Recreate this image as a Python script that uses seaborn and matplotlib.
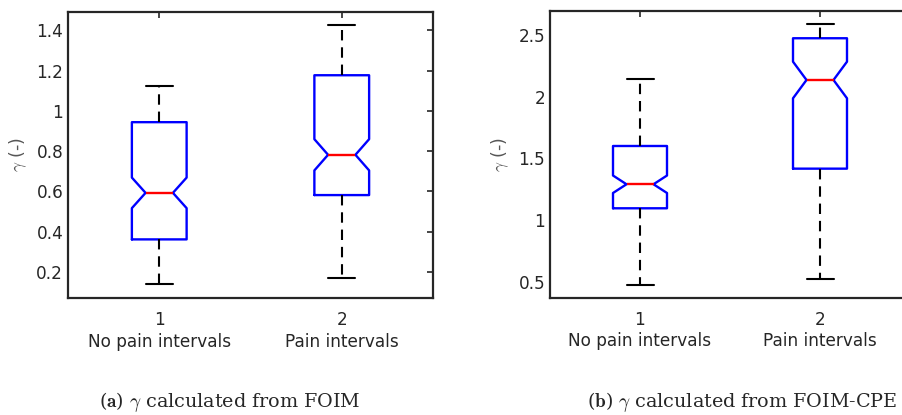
"""Notched boxplots of gamma for no-pain vs pain intervals (FOIM and FOIM-CPE),
drawn in a MATLAB-like style with seaborn.

Save: out.png
"""
import numpy as np
import pandas as pd

import matplotlib
matplotlib.use('Agg')
import matplotlib.pyplot as plt
import matplotlib.ticker as mticker
import seaborn as sns

sns.set_style('white')
plt.rcParams['font.family'] = ['DejaVu Sans']
plt.rcParams['mathtext.fontset'] = 'cm'

GROUPS = ['No pain intervals', 'Pain intervals']

# five-number summaries: [whisker low, Q1, median, Q3, whisker high]
FOIM_NOPAIN = [0.139, 0.362, 0.593, 0.944, 1.124]
FOIM_PAIN = [0.172, 0.582, 0.782, 1.177, 1.428]
CPE_NOPAIN = [0.478, 1.098, 1.292, 1.601, 2.142]
CPE_PAIN = [0.524, 1.418, 2.134, 2.471, 2.584]

# approximate sample counts (inferred from the notch widths)
N_FOIM = 145
N_CPE = 125

FOIM_TICKS = [0.2, 0.4, 0.6, 0.8, 1.0, 1.2, 1.4]
CPE_TICKS = [0.5, 1.0, 1.5, 2.0, 2.5]


def _frame(summaries, n):
    # each summary value repeated n/5 times keeps the quartiles exact and
    # gives the same notch size as the original sample
    rows = []
    for g, s in zip(GROUPS, summaries):
        for v in np.repeat(s, n // 5):
            rows.append((g, v))
    return pd.DataFrame(rows, columns=['group', 'gamma'])


panels = [
    dict(df=_frame([FOIM_NOPAIN, FOIM_PAIN], N_FOIM), ylim=(0.071, 1.491), ticks=FOIM_TICKS,
         pos=[68 / 902, 1 - 298 / 415, 365 / 902, 286 / 415],
         cap=r'($\mathbf{a}$) $\gamma$ calculated from FOIM', capx=230 / 902),
    dict(df=_frame([CPE_NOPAIN, CPE_PAIN], N_CPE), ylim=(0.376, 2.691), ticks=CPE_TICKS,
         pos=[550 / 902, 1 - 297.7 / 415, 360 / 902, 286.7 / 415],
         cap=r'($\mathbf{b}$) $\gamma$ calculated from FOIM-CPE', capx=742 / 902),
]

fig = plt.figure(figsize=(9.02, 4.15), dpi=100)
SPINE = '#262626'

for p in panels:
    ax = fig.add_axes(p['pos'])
    sns.boxplot(data=p['df'], x='group', y='gamma', order=GROUPS, ax=ax,
                width=0.3, whis=(0, 100), fill=False, shownotches=True,
                boxprops={'color': '#0000ff', 'linewidth': 1.7},
                medianprops={'color': '#ff0000', 'linewidth': 1.7},
                whiskerprops={'color': 'black', 'linewidth': 1.5,
                              'linestyle': (0, (5, 3.3))},
                capprops={'color': 'black', 'linewidth': 1.5},
                showfliers=False)
    ax.set_xlim(-0.5, 1.5)
    ax.set_ylim(*p['ylim'])
    ax.set_yticks(p['ticks'])
    ax.yaxis.set_major_formatter(mticker.FuncFormatter(lambda v, _: f'{v:g}'))
    ax.set_xticks([0, 1])
    ax.set_xticklabels([f'{i + 1}\n{g}' for i, g in enumerate(GROUPS)],
                       linespacing=1.25)
    ax.set_xlabel('')
    ax.set_ylabel(r'$\gamma$ (-)', fontsize=12.5, color='#555555', labelpad=5)
    ax.tick_params(axis='both', direction='in', length=4, width=1.2, color=SPINE,
                   labelsize=12.2, labelcolor=SPINE, top=True, right=True)
    ax.tick_params(axis='y', pad=3.5)
    ax.tick_params(axis='x', pad=9.5)
    for s in ax.spines.values():
        s.set_color(SPINE)
        s.set_linewidth(1.6)
        s.set_visible(True)
    fig.text(p['capx'], 1 - 402 / 415, p['cap'], ha='center', va='center',
             fontsize=13.8, family=['DejaVu Serif'])

fig.savefig('out.png', dpi=100)
plt.close(fig)
